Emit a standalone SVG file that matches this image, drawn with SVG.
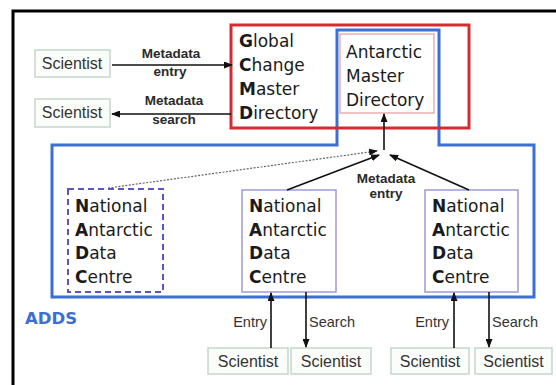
<svg xmlns="http://www.w3.org/2000/svg" width="556" height="385" viewBox="0 0 556 385">
<style>
.big{font-family:"DejaVu Sans",Verdana,sans-serif;font-size:17px;fill:#1a1a1a}
.b{font-weight:bold}
.sci{font-family:"Liberation Sans",Arial,sans-serif;font-size:16px;fill:#333;text-anchor:middle}
.lbl{font-family:"Liberation Sans",Arial,sans-serif;font-size:13.5px;font-weight:bold;fill:#2a2a2a;text-anchor:middle}
.es{font-family:"Liberation Sans",Arial,sans-serif;font-size:14.5px;fill:#333}
.sbox{fill:#fbfdfb;stroke:#c4d6ce;stroke-width:1.5}
.nbox{fill:#fff;stroke:#9c9ad8;stroke-width:1.5}
.conn{fill:none;stroke:#111;stroke-width:1.6}
</style>
<defs>
<marker id="ah" markerUnits="userSpaceOnUse" markerWidth="9" markerHeight="7" refX="8" refY="3.5" orient="auto">
<path d="M0,0 L9,3.5 L0,7 z" fill="#111"/>
</marker>
</defs>
<rect width="556" height="385" fill="#fff"/>
<path d="M13,385 V11 H556" fill="none" stroke="#000" stroke-width="3"/>

<g id="adds">
<path d="M52,145 H337 V30 H439 V145 H534 V297 H52 Z" fill="none" stroke="#3b6fd4" stroke-width="3"/>
<text x="25" y="324" font-family="DejaVu Sans,Verdana,sans-serif" font-size="16.5" font-weight="bold" fill="#3b6fd4">ADDS</text>
</g>

<g id="gcmd">
<rect x="231" y="25" width="238" height="103" fill="none" stroke="#d42a30" stroke-width="3"/>
<text class="big" x="239"><tspan x="239" y="47"><tspan class="b">G</tspan>lobal</tspan><tspan x="239" y="71"><tspan class="b">C</tspan>hange</tspan><tspan x="239" y="95"><tspan class="b">M</tspan>aster</tspan><tspan x="239" y="119"><tspan class="b">D</tspan>irectory</tspan></text>
</g>

<g id="amd">
<rect x="340" y="34" width="94" height="79" fill="#fff" stroke="#e8a2a2" stroke-width="1.3"/>
<text class="big"><tspan x="346" y="58">Antarctic</tspan><tspan x="346" y="82">Master</tspan><tspan x="346" y="106">Directory</tspan></text>
</g>

<g id="sci-entry">
<rect class="sbox" x="35" y="50" width="75" height="27"/>
<text class="sci" x="72" y="69">Scientist</text>
</g>
<g id="sci-search">
<rect class="sbox" x="35" y="99" width="75" height="28"/>
<text class="sci" x="72" y="118">Scientist</text>
</g>

<g id="nadc1">
<rect x="68" y="189" width="95" height="103" fill="#fff" stroke="#5a55c4" stroke-width="2" stroke-dasharray="6,4"/>
<text class="big"><tspan x="75" y="212"><tspan class="b">N</tspan>ational</tspan><tspan x="75" y="236"><tspan class="b">A</tspan>ntarctic</tspan><tspan x="75" y="259"><tspan class="b">D</tspan>ata</tspan><tspan x="75" y="283"><tspan class="b">C</tspan>entre</tspan></text>
</g>
<g id="nadc2">
<rect class="nbox" x="242" y="190" width="94" height="102"/>
<text class="big"><tspan x="249" y="212"><tspan class="b">N</tspan>ational</tspan><tspan x="249" y="236"><tspan class="b">A</tspan>ntarctic</tspan><tspan x="249" y="259"><tspan class="b">D</tspan>ata</tspan><tspan x="249" y="283"><tspan class="b">C</tspan>entre</tspan></text>
</g>
<g id="nadc3">
<rect class="nbox" x="425" y="190" width="93" height="102"/>
<text class="big"><tspan x="432" y="212"><tspan class="b">N</tspan>ational</tspan><tspan x="432" y="236"><tspan class="b">A</tspan>ntarctic</tspan><tspan x="432" y="259"><tspan class="b">D</tspan>ata</tspan><tspan x="432" y="283"><tspan class="b">C</tspan>entre</tspan></text>
</g>

<g id="sci-b1"><rect class="sbox" x="208" y="348" width="80" height="26"/><text class="sci" x="248" y="367">Scientist</text></g>
<g id="sci-b2"><rect class="sbox" x="291" y="348" width="80" height="26"/><text class="sci" x="331" y="367">Scientist</text></g>
<g id="sci-b3"><rect class="sbox" x="391" y="348" width="78" height="26"/><text class="sci" x="430" y="367">Scientist</text></g>
<g id="sci-b4"><rect class="sbox" x="475" y="348" width="77" height="26"/><text class="sci" x="513.5" y="367">Scientist</text></g>

<g id="connectors">
<line class="conn" x1="112" y1="65" x2="232" y2="65" marker-end="url(#ah)"/>
<line class="conn" x1="231" y1="114" x2="112" y2="114" marker-end="url(#ah)"/>
<line class="conn" x1="384" y1="150" x2="384" y2="114" marker-end="url(#ah)"/>
<line class="conn" x1="287" y1="190" x2="379" y2="155" marker-end="url(#ah)"/>
<line class="conn" x1="469" y1="190" x2="390" y2="155" marker-end="url(#ah)"/>
<line x1="108" y1="188" x2="377" y2="151" fill="none" stroke="#666" stroke-width="1.2" stroke-dasharray="2,1.5" marker-end="url(#ah)"/>
<line class="conn" x1="271" y1="348" x2="271" y2="293" marker-end="url(#ah)"/>
<line class="conn" x1="306" y1="292" x2="306" y2="347" marker-end="url(#ah)"/>
<line class="conn" x1="454" y1="348" x2="454" y2="293" marker-end="url(#ah)"/>
<line class="conn" x1="489" y1="292" x2="489" y2="347" marker-end="url(#ah)"/>
<text class="lbl" x="171" y="58">Metadata</text>
<text class="lbl" x="170" y="76">entry</text>
<text class="lbl" x="174" y="105">Metadata</text>
<text class="lbl" x="174" y="124">search</text>
<text class="lbl" x="386" y="183">Metadata</text>
<text class="lbl" x="386" y="198">entry</text>
<text class="es" x="267" y="327" text-anchor="end">Entry</text>
<text class="es" x="309" y="327">Search</text>
<text class="es" x="449" y="327" text-anchor="end">Entry</text>
<text class="es" x="492" y="327">Search</text>
</g>
</svg>
